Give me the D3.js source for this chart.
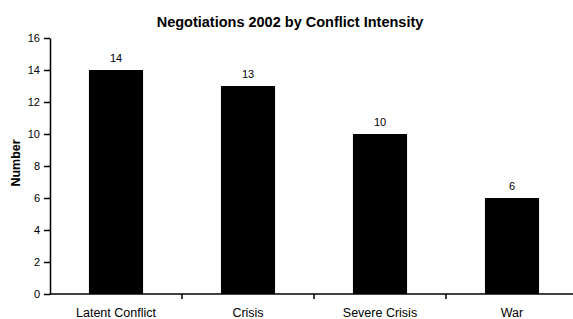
<!DOCTYPE html>
<meta charset="utf-8">
<style>
body { margin: 0; background: #fff; }
text { font-family: "Liberation Sans", Arial, sans-serif; fill: #000; }
.title { font-size: 14.5px; font-weight: bold; }
.ylabel { font-size: 12.5px; font-weight: bold; }
.tick text { font-size: 11px; }
.xlab { font-size: 12.5px; }
.val { font-size: 11px; }
.domain, .tick line { stroke: #000; stroke-width: 1.5px; }
</style>
<svg width="573" height="319"></svg>
<script src="https://cdn.jsdelivr.net/npm/d3@7"></script>
<script>

var categories = ["Latent Conflict", "Crisis", "Severe Crisis", "War"],
    values = [14, 13, 10, 6],
    yTicks = [0, 2, 4, 6, 8, 10, 12, 14, 16];

var svg = d3.select("svg"),
    x0 = 50, x1 = 578, y0 = 294, y1 = 38;

var x = d3.scaleBand()
    .domain(categories)
    .range([x0, x1])
    .paddingInner(0.59)
    .paddingOuter(0.295);

var y = d3.scaleLinear()
    .domain([0, 16])
    .range([y0, y1]);

var step = x.step();

// bars
svg.selectAll(".bar")
    .data(values)
  .enter().append("rect")
    .attr("class", "bar")
    .attr("x", function(d, i) { return x(categories[i]); })
    .attr("y", function(d) { return y(d); })
    .attr("width", x.bandwidth())
    .attr("height", function(d) { return y0 - y(d); })
    .attr("fill", "#000");

// value labels
svg.selectAll(".val")
    .data(values)
  .enter().append("text")
    .attr("class", "val")
    .attr("x", function(d, i) { return x(categories[i]) + x.bandwidth() / 2; })
    .attr("y", function(d) { return y(d) - 8; })
    .attr("text-anchor", "middle")
    .text(function(d) { return d; });

// y axis
svg.append("g")
    .attr("transform", "translate(" + x0 + ",0)")
    .call(d3.axisLeft(y).tickValues(yTicks).tickSize(6).tickSizeOuter(0).tickPadding(4));

// x axis line + boundary ticks
svg.append("line")
    .attr("x1", x0).attr("x2", x1)
    .attr("y1", y0).attr("y2", y0)
    .attr("stroke", "#000").attr("stroke-width", 1.5);

svg.selectAll(".xt")
    .data(categories.slice(1))
  .enter().append("line")
    .attr("x1", function(d) { return x(d) - step * 0.295; })
    .attr("x2", function(d) { return x(d) - step * 0.295; })
    .attr("y1", y0).attr("y2", y0 + 5)
    .attr("stroke", "#000").attr("stroke-width", 1.5);

svg.selectAll(".xlab")
    .data(categories)
  .enter().append("text")
    .attr("class", "xlab")
    .attr("x", function(d) { return x(d) + x.bandwidth() / 2; })
    .attr("y", 317)
    .attr("text-anchor", "middle")
    .text(function(d) { return d; });

svg.append("text")
    .attr("class", "title")
    .attr("x", 290)
    .attr("y", 27)
    .attr("text-anchor", "middle")
    .text("Negotiations 2002 by Conflict Intensity");

svg.append("text")
    .attr("class", "ylabel")
    .attr("transform", "translate(20,163) rotate(-90)")
    .attr("text-anchor", "middle")
    .text("Number");

</script>
